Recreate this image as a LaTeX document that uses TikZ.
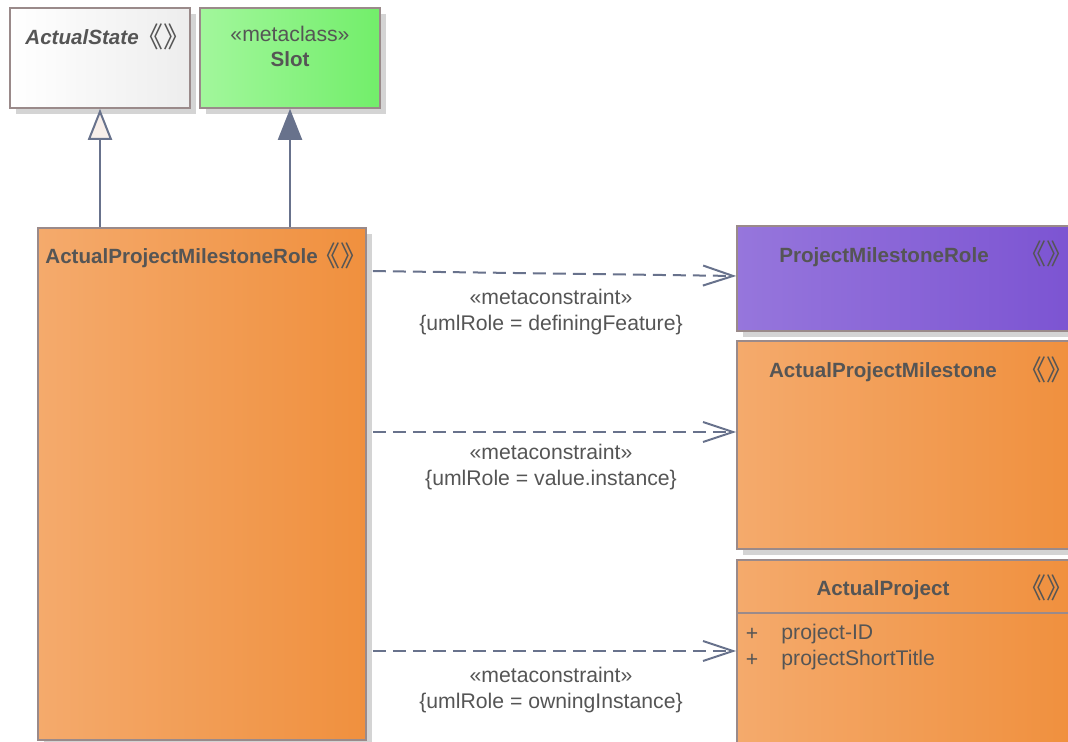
\documentclass[tikz,border=0pt]{standalone}
\usepackage{fontspec}
\setmainfont{Liberation Sans}
\newfontfamily\cjk{Noto Sans CJK SC}
\usetikzlibrary{arrows.meta,fit,shadows}

\definecolor{umlline}{HTML}{68728C}
\definecolor{umlborder}{HTML}{9A8A8A}
\definecolor{umltext}{HTML}{555555}
\definecolor{orangeL}{HTML}{F4AA6C}
\definecolor{orangeR}{HTML}{F0903E}
\definecolor{purpleL}{HTML}{9676DC}
\definecolor{purpleR}{HTML}{7C54D2}
\definecolor{greenL}{HTML}{A2F79C}
\definecolor{greenR}{HTML}{72EE6A}
\definecolor{hollow}{HTML}{F8EFEA}

% the little stereotype mark in the class headers (trimmed to its ink)
\newcommand{\stereomark}{{\cjk\fontsize{14}{14}\selectfont\kern-0.45em《》\kern-0.45em}}

\tikzset{
  umlbox/.style={draw=umlborder, line width=0.8pt, inner sep=0pt,
    drop shadow={shadow xshift=3pt, shadow yshift=-3pt, fill=black!17, opacity=1}},
  orangebox/.style={umlbox, left color=orangeL, right color=orangeR},
  purplebox/.style={umlbox, left color=purpleL, right color=purpleR},
  greenbox/.style={umlbox, left color=greenL, right color=greenR},
  whitebox/.style={umlbox, left color=white, right color=black!7},
  title/.style={text=umltext, inner sep=0pt, font=\bfseries\fontsize{10.3}{12}\selectfont},
  sym/.style={text=umltext, inner sep=0pt},
  plain/.style={text=umltext, inner sep=0pt, align=center, font=\fontsize{10.6}{13}\selectfont},
  gen/.style={draw=umlline, line width=1pt},
  dep/.style={draw=umlline, line width=1pt, dash pattern=on 6.5pt off 3.5pt,
    shorten <=3pt, -{Straight Barb[length=15pt,width=10pt]}},
}

\begin{document}
\begin{tikzpicture}[x=0.5pt, y=-0.5pt]
\useasboundingbox (0,0) rectangle (1068,742);

% the two parents at the top
\node[whitebox, fit={(10,8) (190,108)}] (state) {};
\node[title, font=\bfseries\itshape\fontsize{10.3}{12}\selectfont, anchor=west] (statetitle) at (25,37) {ActualState};
\node[sym] (statesym) at (163,37) {\stereomark};

\node[greenbox, fit={(200,8) (380,108)}] (slot) {};
\node[plain] (slotstereo) at (290,34) {«metaclass»};
\node[title] (slottitle) at (290,59) {Slot};

% the role class on the left
\node[orangebox, fit={(38,228) (366,740)}] (role) {};
\node[title, anchor=west] (roletitle) at (45,258) {ActualProjectMilestoneRole};
\node[sym] (rolesym) at (340,256) {\stereomark};

% targets on the right
\node[purplebox, fit={(737,226) (1072,331)}] (pmr) {};
\node[title] (pmrtitle) at (884,257) {ProjectMilestoneRole};
\node[sym] (pmrsym) at (1046,254) {\stereomark};

\node[orangebox, fit={(737,341) (1072,549)}] (apm) {};
\node[title] (apmtitle) at (883,372) {ActualProjectMilestone};
\node[sym] (apmsym) at (1046,370) {\stereomark};

\node[orangebox, fit={(737,560) (1072,760)}] (ap) {};
\node[title] (aptitle) at (883,590) {ActualProject};
\node[sym] (apsym) at (1046,588) {\stereomark};
\draw[umlborder, line width=0.8pt] (ap.west |- 0,613) -- (ap.east |- 0,613);
\foreach \attr/\y in {project-ID/634, projectShortTitle/660}{
  \node[plain] at (752,\y) {+};
  \node[plain, anchor=west] at (781,\y) {\attr};
}

% generalization and extension
\draw[gen, -{Triangle[length=15.5pt,width=12pt,fill=hollow]}] (role.north -| state.south) -- (state.south);
\draw[gen, -{Triangle[length=15.5pt,width=12pt]}] (role.north -| slot.south) -- (slot.south);

% metaconstraints
\foreach \tgt/\ys/\ye/\yl/\val in {pmr/271/276/312/definingFeature,
                                   apm/432/432/467/value.instance,
                                   ap/651/651/690/owningInstance}{
  \draw[dep] (role.east |- 0,\ys) -- (\tgt.west |- 0,\ye);
  \node[plain] (\tgt lbl) at (551,\yl) {«metaconstraint»\\\{umlRole = \val\}};
}
\end{tikzpicture}
\end{document}
